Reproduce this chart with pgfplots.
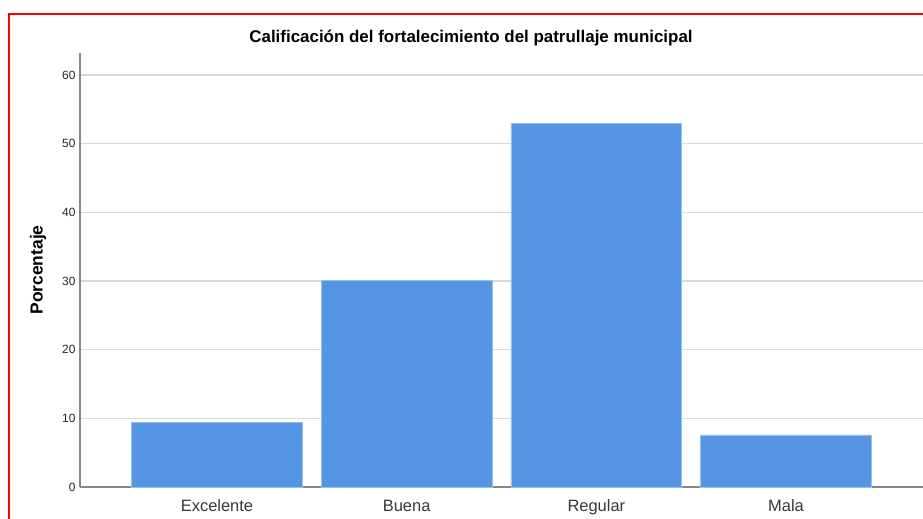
\documentclass[border=0pt]{standalone}
\usepackage{pgfplots}
\pgfplotsset{compat=1.18}
\usepackage{fontspec}
\setmainfont{Liberation Sans}
\definecolor{barblue}{RGB}{85,149,227}
\definecolor{gridgray}{RGB}{217,217,217}
\definecolor{axgray}{RGB}{136,136,136}
\begin{document}
\begin{tikzpicture}
\path[use as bounding box] (0,0) rectangle (923bp,519bp);
\begin{axis}[
  at={(80bp,32bp)}, anchor=south west,
  scale only axis, width=843bp, height=434bp,
  xmin=-0.722, xmax=3.722, ymin=0, ymax=63.2,
  axis lines=left, axis line style={axgray, line width=1.2bp, -},
  xtick={0,1,2,3}, xticklabels={Excelente,Buena,Regular,Mala},
  ytick={0,10,20,30,40,50,60},
  major tick length=0pt,
  ymajorgrids, grid style={gridgray, line width=1.3bp},
  /pgf/number format/assume math mode=true,
  yticklabel style={font=\fontsize{12}{14}\selectfont, text=black!85, xshift=-1bp},
  xticklabel style={font=\fontsize{16.5}{19}\selectfont, text=black!78, anchor=base, yshift=-24bp},
  clip=false,
]
\addplot[ybar, bar width=0.9, fill=barblue, draw=barblue!60!white, line width=0.6bp] coordinates {(0,9.4) (1,30.1) (2,52.9) (3,7.6)};
\end{axis}
\node[font=\bfseries\fontsize{17}{20}\selectfont, anchor=base] at (471bp,476bp) {Calificación del fortalecimiento del patrullaje municipal};
\node[font=\bfseries\fontsize{17.5}{20}\selectfont, rotate=90] at (38bp,249bp) {Porcentaje};
\draw[red, line width=2.5bp] (9bp,0) -- (9bp,505bp) -- (923bp,505bp);
\end{tikzpicture}
\end{document}
